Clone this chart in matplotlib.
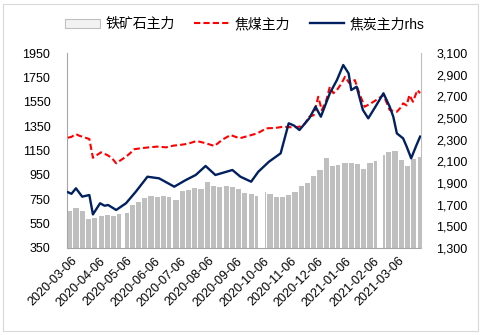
import numpy as np
import pandas as pd
import matplotlib
matplotlib.use('Agg')
import matplotlib.pyplot as plt
import matplotlib.dates as mdates
from matplotlib.patches import Patch, Rectangle
from matplotlib.lines import Line2D
from matplotlib.ticker import FuncFormatter

plt.rcParams['font.family'] = ['Liberation Sans', 'Noto Sans CJK SC', 'DejaVu Sans']

# ---------------- data ----------------
week_starts = pd.date_range('2020-03-02', '2021-03-29', freq='W-MON')
iron_ore = [650, 675, 655, 585, 600, 615, 620, 610, 625, 640,
            700, 730, 760, 775, 770, 775, 765, 745, 815, 830,
            840, 835, 890, 860, 850, 855, 850, 835, 800, 795,
            775, 812, 790, 770, 770, 785, 810, 860, 880, 940,
            990, 1086, 1020, 1030, 1045, 1045, 1040, 995, 1045, 1060,
            1110, 1140, 1150, 1075, 1020, 1080, 1100]
holidays = ['2020-04-06', '2020-05-01', '2020-05-04', '2020-05-05', '2020-06-25',
            '2020-06-26', '2020-10-01', '2020-10-02', '2020-10-05', '2020-10-06',
            '2020-10-07', '2020-10-08', '2021-01-01', '2021-02-11', '2021-02-12',
            '2021-02-15', '2021-02-16', '2021-02-17']

coal_dates = ['2020-03-02', '2020-03-06', '2020-03-11', '2020-03-15', '2020-03-19', '2020-03-26',
              '2020-03-30', '2020-04-03', '2020-04-08', '2020-04-15', '2020-04-20', '2020-04-25',
              '2020-04-30', '2020-05-06', '2020-05-11', '2020-05-15', '2020-05-22',
              '2020-06-01', '2020-06-10', '2020-06-20', '2020-06-28', '2020-07-05', '2020-07-14',
              '2020-07-24', '2020-08-03', '2020-08-13', '2020-08-22', '2020-08-31', '2020-09-10',
              '2020-09-20', '2020-09-30', '2020-10-10', '2020-10-20', '2020-10-29',
              '2020-11-08', '2020-11-16', '2020-11-22', '2020-11-27', '2020-12-02', '2020-12-07',
              '2020-12-11', '2020-12-16', '2020-12-20', '2020-12-24', '2020-12-28', '2021-01-02',
              '2021-01-06', '2021-01-11', '2021-01-17', '2021-01-22',
              '2021-01-28', '2021-02-04', '2021-02-09', '2021-02-18', '2021-02-25', '2021-03-05',
              '2021-03-09', '2021-03-12', '2021-03-16', '2021-03-19', '2021-03-23', '2021-03-28',
              '2021-03-31']
coking_coal = [1255, 1262, 1285, 1270, 1262, 1244,
               1090, 1110, 1135, 1113, 1090, 1045,
               1070, 1099, 1130, 1160, 1168,
               1176, 1182, 1176, 1190, 1195, 1205,
               1228, 1210, 1187, 1240, 1277, 1250,
               1270, 1291, 1332, 1335, 1345,
               1340, 1345, 1370, 1427, 1440, 1591,
               1482, 1560, 1673, 1620, 1646, 1700,
               1755, 1701, 1728, 1619,
               1509, 1537, 1560, 1605, 1482, 1468,
               1500, 1537, 1520, 1605, 1550, 1646,
               1620]

coke_dates = ['2020-03-02', '2020-03-06', '2020-03-11', '2020-03-18', '2020-03-26', '2020-03-30',
              '2020-04-07', '2020-04-12', '2020-04-16', '2020-04-25', '2020-05-06', '2020-05-17',
              '2020-05-30', '2020-06-12', '2020-06-29', '2020-07-12', '2020-07-23',
              '2020-08-03', '2020-08-14', '2020-09-02', '2020-09-11', '2020-09-23',
              '2020-10-01', '2020-10-13', '2020-10-26', '2020-11-04', '2020-11-10', '2020-11-16',
              '2020-11-27', '2020-12-04', '2020-12-10', '2020-12-20', '2020-12-28',
              '2021-01-04', '2021-01-10', '2021-01-13', '2021-01-19', '2021-01-26',
              '2021-02-01', '2021-02-09', '2021-02-18', '2021-02-25', '2021-03-01',
              '2021-03-05', '2021-03-12', '2021-03-16', '2021-03-21', '2021-03-27',
              '2021-03-31']
coke = [1815, 1800, 1851, 1774, 1789, 1610,
        1713, 1690, 1697, 1651, 1713, 1820,
        1958, 1943, 1866, 1928, 1974,
        2057, 1974, 2020, 1958, 1912,
        2004, 2097, 2174, 2451, 2430, 2389,
        2497, 2604, 2512, 2728, 2851,
        2989, 2912, 2758, 2789, 2574,
        2497, 2604, 2728, 2604, 2512,
        2358, 2312, 2235, 2128, 2251,
        2328]

xtick_labels = ['2020-03-06', '2020-04-06', '2020-05-06', '2020-06-06', '2020-07-06',
                '2020-08-06', '2020-09-06', '2020-10-06', '2020-11-06', '2020-12-06',
                '2021-01-06', '2021-02-06', '2021-03-06']
left_ticks = [350, 550, 750, 950, 1150, 1350, 1550, 1750, 1950]
right_ticks = [1300, 1500, 1700, 1900, 2100, 2300, 2500, 2700, 2900, 3100]

# ---------------- figure ----------------
fig = plt.figure(figsize=(4.82, 3.35), dpi=100)
fig.patches.append(Rectangle((3 / 482, 4 / 335), 475 / 482, 327 / 335, transform=fig.transFigure,
                             fill=False, edgecolor='#D9D9D9', linewidth=0.8))
ax = fig.add_axes([67 / 482, 1 - 248 / 335, (421 - 67) / 482, (248 - 53) / 335])
ax2 = ax.twinx()

# weekly blocks of trading days
days = pd.bdate_range('2020-03-02', '2021-03-31')
days = days[~days.isin(pd.to_datetime(holidays))]
lefts, widths, heights = [], [], []
for w, v in zip(week_starts, iron_ore):
    sel = days[(days >= w) & (days < w + pd.Timedelta(days=7))]
    if len(sel) == 0:
        continue
    a = mdates.date2num(sel[0]) - 0.9
    b = mdates.date2num(sel[-1]) + 0.9
    lefts.append(a)
    widths.append(b - a)
    heights.append(v)
ax.bar(lefts, heights, width=widths, align='edge', color='#BFBFBF', linewidth=0, zorder=1)

ax.plot(pd.to_datetime(coal_dates), coking_coal, color='#FF0000', linestyle=(0, (3, 1.5)),
        linewidth=1.5, zorder=3)
ax2.plot(pd.to_datetime(coke_dates), coke, color='#002060', linewidth=1.7, zorder=3)

ax.set_ylim(350, 1950)
ax.set_yticks(left_ticks)
ax2.set_ylim(1300, 3100)
ax2.set_yticks(right_ticks)
ax2.yaxis.set_major_formatter(FuncFormatter(lambda v, p: f'{v:,.0f}'))

ax.set_xlim(mdates.date2num(pd.Timestamp('2020-03-01')), mdates.date2num(pd.Timestamp('2021-04-01')))
ax.set_xticks(mdates.date2num(pd.to_datetime(xtick_labels)))
ax.set_xticklabels(xtick_labels, rotation=45, ha='right', va='top', rotation_mode='anchor')

for a in (ax, ax2):
    a.spines['top'].set_visible(False)
    a.spines['left'].set_color('#A6A6A6')
    a.spines['right'].set_color('#BFBFBF')
    a.spines['bottom'].set_color('#A6A6A6')
    a.tick_params(length=0, labelsize=9, colors='black')
ax.tick_params(axis='y', pad=12)
ax2.tick_params(axis='y', pad=11)
ax.tick_params(axis='x', pad=5)
ax2.spines['left'].set_visible(False)
ax2.spines['bottom'].set_visible(False)
ax.spines['right'].set_visible(False)

handles = [Patch(facecolor='#F2F2F2', edgecolor='#BFBFBF', linewidth=0.8),
           Line2D([], [], color='#FF0000', linestyle=(0, (3, 1.5)), linewidth=1.5),
           Line2D([], [], color='#002060', linewidth=1.7)]
labels = ['铁矿石主力', '焦煤主力', '焦炭主力rhs']
fig.legend(handles, labels, loc='center', bbox_to_anchor=(245 / 482, 1 - 24 / 335), ncol=3,
           frameon=False, fontsize=10, handlelength=2.5, handletextpad=0.4, columnspacing=1.4,
           handleheight=0.6)

fig.savefig('out.png', dpi=100)
